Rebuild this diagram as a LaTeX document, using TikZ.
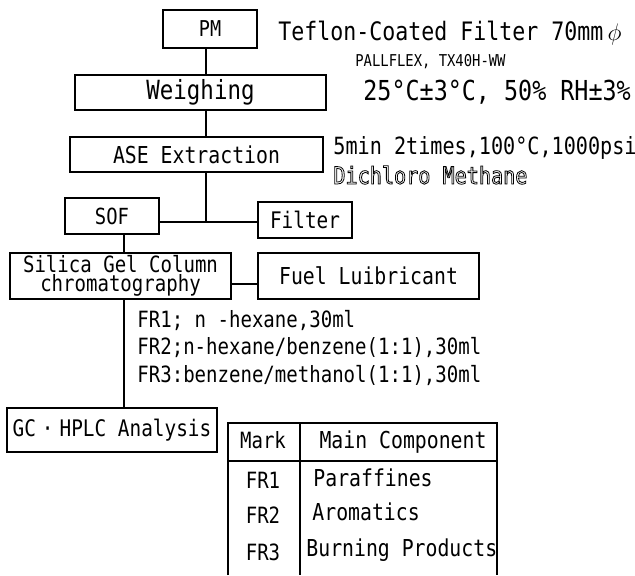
\documentclass[tikz,border=0pt]{standalone}
\usepackage{fontspec}
\setmainfont[FakeStretch=0.85]{DejaVu Sans Mono}
\usetikzlibrary{positioning}

% text drawn as outline only
\newcommand{\outlined}[1]{\special{pdf:literal direct 1 Tr}#1\special{pdf:literal direct 0 Tr}}
\newcommand{\fs}[1]{\fontsize{#1}{#1}\selectfont}

\begin{document}
\begin{tikzpicture}[
  x=0.5pt, y=-0.5pt,
  box/.style={rectangle, draw, line width=0.7pt, inner sep=0pt, align=center, font=\fs{11.65}},
  note/.style={inner sep=0pt, anchor=west, font=\fs{11.65}},
  cell/.style={inner sep=0pt, font=\fs{11.2}},
  link/.style={line width=0.7pt}
]
  \useasboundingbox (0,0) rectangle (635,575);

  % main chain
  \node[box, minimum width=47pt, minimum height=19pt, font=\fs{10.9}] (pm) at (210,29) {PM};
  \node[box, minimum width=125.5pt, minimum height=17.5pt, font=\fs{13.2}] (weigh) at (200.5,92.5) {Weighing};
  \node[box, minimum width=126.5pt, minimum height=17.5pt] (ase) at (196.5,154.5) {ASE Extraction};
  \node[box, minimum width=47pt, minimum height=18pt, font=\fs{11.1}] (sof) at (112,216) {SOF};
  \node[box, minimum width=47pt, minimum height=18pt, font=\fs{11.4}] (filter) at (305,220) {Filter};
  \node[box, minimum width=110.5pt, minimum height=23pt,
        font=\fontsize{11.2}{8.2}\selectfont] (silica) at (120.5,276) {Silica Gel Column\\chromatography};
  \node[box, minimum width=110.5pt, minimum height=23pt] (fuel) at (368.5,276) {Fuel Luibricant};
  \node[box, minimum width=105pt, minimum height=22pt, font=\fs{11.4}] (gc) at (112,430) {GC\hspace{3pt}·\hspace{3pt}HPLC Analysis};

  % conditions
  \node[note, font=\fs{12.7}] (teflon) at (278,33) {Teflon-Coated Filter 70mm\,$\phi$};
  \node[note, font=\fs{8.15}] (pall) at (355,62) {PALLFLEX, TX40H-WW};
  \node[note, font=\fs{13.75}] (cond) at (363,92) {25°C±3°C, 50\% RH±3\%};
  \node[note, font=\fs{11.85}] (ext) at (333,148) {5min 2times,100°C,1000psi};
  \node[note, font=\fs{11.85}] (solv) at (333,175) {\outlined{Dichloro Methane}};
  \node[note, font=\fs{11.2}] (fr1) at (137,320) {FR1; n -hexane,30ml};
  \node[note, font=\fs{11.2}] (fr2) at (137,347) {FR2;n-hexane/benzene(1:1),30ml};
  \node[note, font=\fs{11.2}] (fr3) at (137,375) {FR3:benzene/methanol(1:1),30ml};

  % connectors
  \coordinate (trunk) at (206,222);
  \coordinate (stem) at (124,284);
  \draw[link] (pm.south -| trunk) -- (weigh.north -| trunk);
  \draw[link] (weigh.south -| trunk) -- (ase.north -| trunk);
  \draw[link] (ase.south -| trunk) -- (trunk);
  \draw[link] (sof.east |- trunk) -- (filter.west |- trunk);
  \draw[link] (sof.south -| stem) -- (silica.north -| stem);
  \draw[link] (silica.east |- stem) -- (fuel.west |- stem);
  \draw[link] (silica.south -| stem) -- (gc.north -| stem);

  % fraction table
  \draw[link] (228,575) -- (228,423) -- (497,423) -- (497,575);
  \draw[link] (228,461) -- (497,461);
  \draw[link] (300,423) -- (300,575);
  \node[cell] (mark) at (263,440) {Mark};
  \node[cell, font=\fs{11.65}] (comp) at (403,442) {Main Component};
  \node[cell] (m1) at (263,480) {FR1};
  \node[cell] (m2) at (263,515) {FR2};
  \node[cell] (m3) at (263,552) {FR3};
  \node[note] (c1) at (313,478) {Paraffines};
  \node[note] (c2) at (312,512) {Aromatics};
  \node[note] (c3) at (306,550) {Burning Products};
\end{tikzpicture}
\end{document}
